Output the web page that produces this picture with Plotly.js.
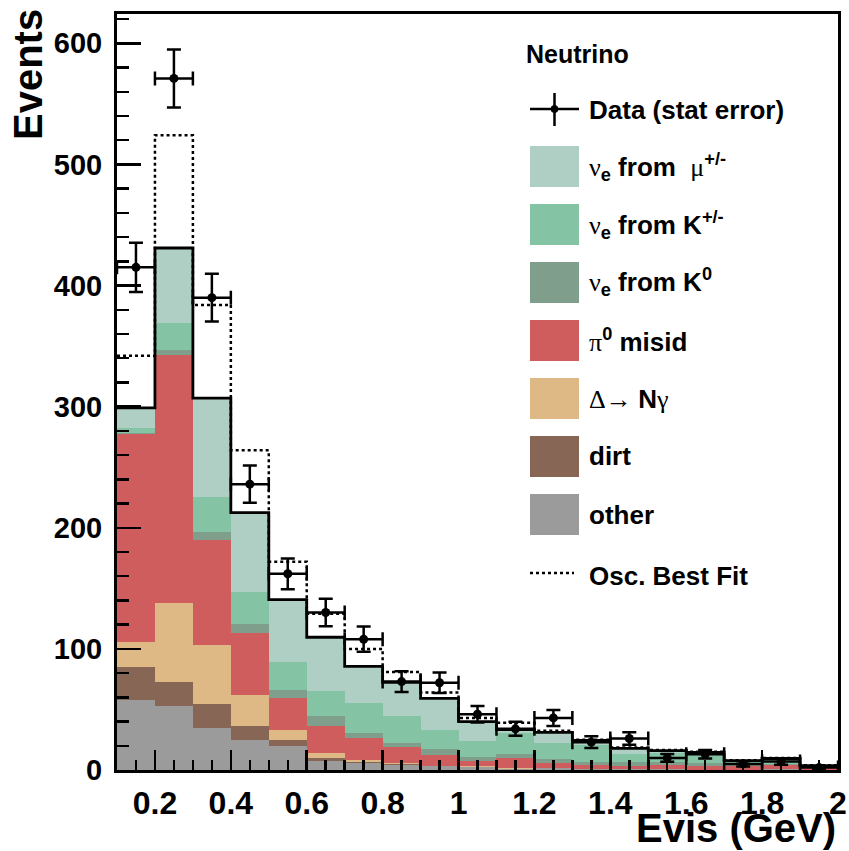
<!DOCTYPE html>
<html>
<head>
<meta charset="utf-8">
<script src="https://cdn.plot.ly/plotly-3.0.1.min.js"></script>
<style>html,body{margin:0;padding:0;background:#fff;}#plot{width:849px;height:851px;}</style>
</head>
<body>
<div id="plot"></div>
<script>
// ---- data ----
var binEdges = [0.1,0.2,0.3,0.4,0.5,0.6,0.7,0.8,0.9,1.0,1.1,1.2,1.3,1.4,1.5,1.6,1.7,1.8,1.9,2.0];
var binCenters = [0.15,0.25,0.35,0.45,0.55,0.65,0.75,0.85,0.95,1.05,1.15,1.25,1.35,1.45,1.55,1.65,1.75,1.85,1.95];

var other = [58, 53, 34.4, 25, 19.5, 7.1, 5.5, 4.5, 3.1, 2.5, 0.8, 1.5, 1.2, 0.5, 0.5, 0.4, 0.2, 0.5, 0.1];
var dirt  = [26.8, 20, 20.1, 11.6, 5.5, 2.5, 1.2, 0.5, 0.2, 0.2, 0, 0.2, 0, 0, 0, 0, 0, 0, 0];
var deltaNg = [20.7, 64.7, 49.1, 25.4, 8.3, 4.1, 1.3, 0.5, 0.3, 0.3, 0.8, 0.3, 0, 0, 0, 0, 0, 0, 0];
var pi0Misid = [172.2, 204.7, 86.7, 51, 26.2, 22.9, 18.4, 13.8, 9, 4.7, 8.7, 3.8, 3, 3.1, 3.5, 3.2, 3, 3.5, 2.5];
var nueK0  = [0.5, 4.6, 6.1, 7.6, 6.9, 7.7, 4.4, 2.7, 4.8, 3.3, 3.2, 3.2, 2.5, 2.7, 3, 2, 1, 1, 0.3];
var nueKpm = [4.3, 22, 28.6, 26.7, 23.1, 21, 24.2, 22.3, 15.9, 13.2, 16.8, 13.3, 14, 6.9, 7, 6.5, 2, 3.5, 0.5];
var nueMu  = [16.5, 62, 82, 65.2, 51.2, 44.3, 30.6, 28.1, 25.9, 15.8, 3, 8.7, 3.8, 4.7, 2, 2.5, 1.5, 1, 0.2];

var oscBestFit = [342, 524, 384, 264, 172, 129, 100, 81, 64, 43, 39, 32.5, 25, 18.5, 16.5, 15, 8, 10, 4];
var dataCounts = [415, 571, 390, 236, 162, 130, 108, 73, 72, 46, 34, 43, 23, 26, 10, 13, 5, 7, 2];
var dataErr    = [20.4, 23.9, 19.7, 15.4, 12.7, 11.4, 10.4, 8.5, 8.5, 6.8, 5.8, 6.6, 4.8, 5.1, 3.2, 3.6, 2.2, 2.6, 1.4];

var xTickVals = [0.2,0.4,0.6,0.8,1,1.2,1.4,1.6,1.8,2];
var xTickText = ['0.2','0.4','0.6','0.8','1','1.2','1.4','1.6','1.8','2'];
var yTickVals = [0,100,200,300,400,500,600];
var yTickText = ['0','100','200','300','400','500','600'];

// ---- styles ----
var colors = {
  mu: '#b0cfc4', kpm: '#84c3a3', k0: '#7f9e8b', pi0: '#d05d5e',
  delta: '#dfb985', dirt: '#876655', other: '#9b9b9b'
};

var stack = [
  {name:'other', y: other, c: colors.other},
  {name:'dirt', y: dirt, c: colors.dirt},
  {name:'Delta', y: deltaNg, c: colors.delta},
  {name:'pi0', y: pi0Misid, c: colors.pi0},
  {name:'K0', y: nueK0, c: colors.k0},
  {name:'Kpm', y: nueKpm, c: colors.kpm},
  {name:'mu', y: nueMu, c: colors.mu}
];

var traces = stack.map(function(s){
  return {type:'bar', x: binCenters, y: s.y, width: 0.1, name: s.name,
    marker:{color: s.c, line:{width:0}}, hoverinfo:'skip'};
});

// total MC (sum of stack) as step line
var totals = binCenters.map(function(_, i){
  var t = 0; stack.forEach(function(s){ t += s.y[i]; }); return t;
});
var stepY = totals.concat([totals[totals.length-1]]);
var oscY = oscBestFit.concat([oscBestFit[oscBestFit.length-1]]);

traces.push({type:'scatter', mode:'lines', x: binEdges, y: oscY,
  line:{shape:'hv', color:'#000', width:2.5, dash:'dot'}, hoverinfo:'skip'});
traces.push({type:'scatter', mode:'lines', x: binEdges, y: stepY,
  line:{shape:'hv', color:'#000', width:2.8}, hoverinfo:'skip'});
traces.push({type:'scatter', mode:'markers', x: binCenters, y: dataCounts,
  marker:{color:'#000', size:9},
  error_y:{type:'data', array: dataErr, visible:true, color:'#000', thickness:2.5, width:7},
  error_x:{type:'constant', value:0.05, visible:true, color:'#000', thickness:2.5, width:7},
  hoverinfo:'skip'});

// ---- layout helpers (pixel -> paper) ----
var L = 117, R = 838, T = 14, B = 770;
function px(x){ return (x - L) / (R - L); }
function py(y){ return (B - y) / (B - T); }

var fontFam = 'Liberation Sans, Arial, Helvetica, sans-serif';
var serif = "font-family:'Liberation Serif',serif;font-weight:normal";

var legendRows = [
  {y:166.5, c: colors.mu, t:'<span style="'+serif+'">ν</span><sub>e</sub> from  <span style="'+serif+'">μ</span><sup>+/-</sup>'},
  {y:224.5, c: colors.kpm, t:'<span style="'+serif+'">ν</span><sub>e</sub> from K<sup>+/-</sup>'},
  {y:282.5, c: colors.k0, t:'<span style="'+serif+'">ν</span><sub>e</sub> from K<sup>0</sup>'},
  {y:340.5, c: colors.pi0, t:'<span style="'+serif+'">π</span><sup>0</sup> misid'},
  {y:398.5, c: colors.delta, t:'<span style="'+serif+'">Δ→ </span>N<span style="'+serif+'">γ</span>'},
  {y:456.5, c: colors.dirt, t:'dirt'},
  {y:514.5, c: colors.other, t:'other'}
];

var shapes = [], annotations = [];
legendRows.forEach(function(r){
  shapes.push({type:'rect', xref:'paper', yref:'paper', x0:px(530), x1:px(579),
    y0:py(r.y+20.5), y1:py(r.y-20.5), fillcolor:r.c, line:{width:0}, layer:'above'});
  annotations.push({xref:'paper', yref:'paper', x:px(587), y:py(r.y), xanchor:'left', yanchor:'middle',
    text:r.t, showarrow:false, font:{family:fontFam, size:26, color:'#000', weight:'bold'}});
});
// data legend symbol
shapes.push({type:'line', xref:'paper', yref:'paper', x0:px(530), x1:px(579), y0:py(109), y1:py(109), line:{color:'#000', width:2.5}, layer:'above'});
shapes.push({type:'line', xref:'paper', yref:'paper', x0:px(554.5), x1:px(554.5), y0:py(93), y1:py(126), line:{color:'#000', width:2.5}, layer:'above'});
shapes.push({type:'circle', xref:'paper', yref:'paper', x0:px(551), x1:px(558), y0:py(112.5), y1:py(105.5), fillcolor:'#000', line:{color:'#000', width:1}, layer:'above'});
annotations.push({xref:'paper', yref:'paper', x:px(587), y:py(110), xanchor:'left', yanchor:'middle',
  text:'Data (stat error)', showarrow:false, font:{family:fontFam, size:26, color:'#000', weight:'bold'}});
// osc legend
shapes.push({type:'line', xref:'paper', yref:'paper', x0:px(530), x1:px(574), y0:py(573), y1:py(573), line:{color:'#000', width:2.5, dash:'dot'}, layer:'above'});
annotations.push({xref:'paper', yref:'paper', x:px(587), y:py(576), xanchor:'left', yanchor:'middle',
  text:'Osc. Best Fit', showarrow:false, font:{family:fontFam, size:26, color:'#000', weight:'bold'}});
// legend title
annotations.push({xref:'paper', yref:'paper', x:px(524), y:py(54), xanchor:'left', yanchor:'middle',
  text:'Neutrino', showarrow:false, font:{family:fontFam, size:25, color:'#000', weight:'bold'}});
// axis titles
annotations.push({xref:'paper', yref:'paper', x:px(28), y:py(75), xanchor:'center', yanchor:'middle', textangle:-90,
  text:'Events', showarrow:false, font:{family:fontFam, size:40, color:'#000', weight:'bold'}});
annotations.push({xref:'paper', yref:'paper', x:1, y:py(828), xanchor:'right', yanchor:'middle',
  text:'Evis (GeV)', showarrow:false, font:{family:fontFam, size:40, color:'#000', weight:'bold'}});

var layout = {
  width: 849, height: 851,
  margin: {l: L, r: 849 - R, t: T, b: 851 - B, pad: 0},
  paper_bgcolor: '#fff', plot_bgcolor: '#fff',
  barmode: 'stack', bargap: 0, showlegend: false,
  xaxis: {
    range: [0.1, 2.0], tickmode: 'array', tickvals: xTickVals, ticktext: xTickText,
    ticks: 'inside', ticklen: 20, tickwidth: 2.5, tickcolor: '#000',
    minor: {dtick: 0.05, tick0: 0, ticks: 'inside', ticklen: 10, tickwidth: 2.5, tickcolor: '#000', showgrid: false},
    showline: true, linecolor: '#000', linewidth: 3, mirror: true,
    showgrid: false, zeroline: false, fixedrange: true, layer: 'above traces',
    tickfont: {family: fontFam, size: 32, color: '#000', weight: 'bold'},
    ticklabelstandoff: 3
  },
  yaxis: {
    range: [0, 624.2], tickmode: 'array', tickvals: yTickVals, ticktext: yTickText,
    ticks: 'inside', ticklen: 24, tickwidth: 2.5, tickcolor: '#000',
    minor: {dtick: 20, tick0: 0, ticks: 'inside', ticklen: 12, tickwidth: 2.5, tickcolor: '#000', showgrid: false},
    showline: true, linecolor: '#000', linewidth: 3, mirror: true,
    showgrid: false, zeroline: false, fixedrange: true, layer: 'above traces',
    tickfont: {family: fontFam, size: 29, color: '#000', weight: 'bold'},
    ticklabelstandoff: 6
  },
  shapes: shapes,
  annotations: annotations
};

Plotly.newPlot('plot', traces, layout, {displayModeBar: false, staticPlot: true});
</script>
</body>
</html>
